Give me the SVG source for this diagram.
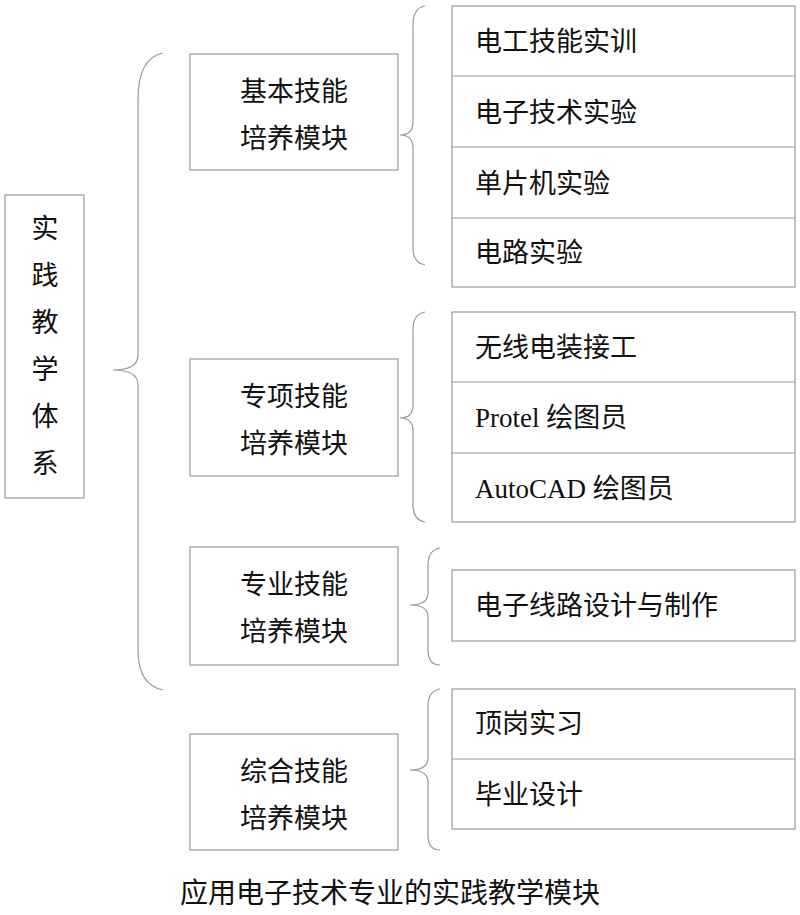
<svg xmlns="http://www.w3.org/2000/svg" width="800" height="915" viewBox="0 0 800 915">
<style>
.b{fill:#fff;stroke:#999;stroke-width:1.2}
.br{fill:none;stroke:#999;stroke-width:1.2}
text{font-family:"Liberation Serif","Noto Sans CJK SC",serif;font-size:27px;fill:#111}
.c{text-anchor:middle}
</style>
<rect width="800" height="915" fill="#fff"/>
<g id="connectors">
<path class="br" d="M163,53 Q138,58 138,100 L138,355 Q138,370 113,370 Q138,370 138,385 L138,650 Q138,685 163,690"/>
<path class="br" d="M425,6 Q413,8 413,25 L413,122 Q413,135 400,135 Q413,135 413,148 L413,248 Q413,263 425,265"/>
<path class="br" d="M425,312 Q413,314 413,330 L413,405 Q413,418 400,418 Q413,418 413,431 L413,505 Q413,520 425,522"/>
<path class="br" d="M440,548 Q428,550 428,565 L428,593 Q428,605 410,605 Q428,605 428,617 L428,650 Q428,665 440,665"/>
<path class="br" d="M440,689 Q428,691 428,706 L428,758 Q428,770 410,770 Q428,770 428,782 L428,835 Q428,850 440,850"/>
</g>
<g id="root"><rect class="b" x="5" y="195" width="79" height="303"/>
<text class="c" x="45" y="238">实</text><text class="c" x="45" y="285">践</text><text class="c" x="45" y="332">教</text><text class="c" x="45" y="379">学</text><text class="c" x="45" y="426">体</text><text class="c" x="45" y="473">系</text></g>
<g id="m1"><rect class="b" x="190" y="54" width="208" height="116"/><text class="c" x="294" y="101">基本技能</text><text class="c" x="294" y="148">培养模块</text></g>
<g id="m2"><rect class="b" x="190" y="359" width="208" height="117"/><text class="c" x="294" y="406">专项技能</text><text class="c" x="294" y="453">培养模块</text></g>
<g id="m3"><rect class="b" x="190" y="547" width="208" height="118"/><text class="c" x="294" y="594">专业技能</text><text class="c" x="294" y="641">培养模块</text></g>
<g id="m4"><rect class="b" x="190" y="734" width="208" height="116"/><text class="c" x="294" y="781">综合技能</text><text class="c" x="294" y="828">培养模块</text></g>
<g id="g1"><rect class="b" x="452" y="6" width="343" height="281"/>
<line class="br" x1="452" y1="76" x2="795" y2="76"/><line class="br" x1="452" y1="147" x2="795" y2="147"/><line class="br" x1="452" y1="218" x2="795" y2="218"/>
<text x="475" y="51">电工技能实训</text><text x="475" y="122">电子技术实验</text><text x="475" y="193">单片机实验</text><text x="475" y="262">电路实验</text></g>
<g id="g2"><rect class="b" x="452" y="312" width="343" height="210"/>
<line class="br" x1="452" y1="382" x2="795" y2="382"/><line class="br" x1="452" y1="453" x2="795" y2="453"/>
<text x="475" y="357">无线电装接工</text><text x="475" y="427">Protel 绘图员</text><text x="475" y="498">AutoCAD 绘图员</text></g>
<g id="g3"><rect class="b" x="452" y="570" width="343" height="71"/><text x="475" y="615">电子线路设计与制作</text></g>
<g id="g4"><rect class="b" x="452" y="689" width="343" height="140"/><line class="br" x1="452" y1="759" x2="795" y2="759"/>
<text x="475" y="733">顶岗实习</text><text x="475" y="804">毕业设计</text></g>
<text class="c" x="390" y="903" style="font-size:28px">应用电子技术专业的实践教学模块</text>
</svg>
